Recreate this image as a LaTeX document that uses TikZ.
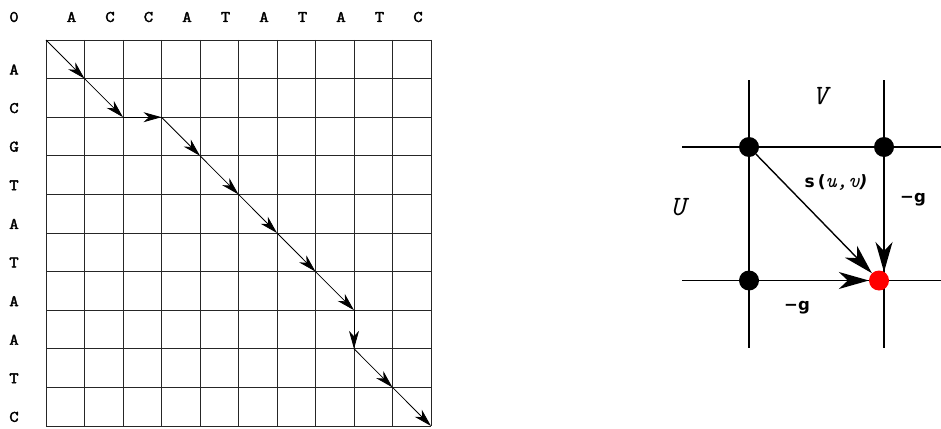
\documentclass[tikz,border=0pt]{standalone}
\usepackage{fontspec}
\newfontfamily\dvs{DejaVu Sans}
\newfontfamily\cb[FakeBold=2.5,FakeStretch=1.15]{Latin Modern Mono}
\newfontfamily\ci{Latin Modern Mono}
\usetikzlibrary{arrows.meta}
\begin{document}
\begin{tikzpicture}[x=1pt,y=-1pt,
  lab/.style={font=\cb\fontsize{16}{16}\selectfont, inner sep=0pt},
  gridline/.style={line width=0.9pt, draw=black!85},
  path/.style={line width=0.8pt, -{Stealth[length=18pt,width=10pt,inset=5.5pt]}},
  axis/.style={line width=1.4pt},
  dot/.style={circle, fill=black, minimum size=20pt, inner sep=0pt},
  reddot/.style={circle, fill=red, minimum size=20pt, inner sep=0pt},
  bigarrow/.style={line width=1.4pt, -{Stealth[length=30pt,width=17pt,inset=9pt]}},
  bigital/.style={font=\ci\itshape\fontsize{28}{28}\selectfont, inner sep=0pt},
  sublab/.style={font=\dvs\bfseries\fontsize{16.5}{16.5}\selectfont, inner sep=0pt}
]
\useasboundingbox (0,0) rectangle (941,428);
% grid
\foreach \i in {0,...,10} {
  \pgfmathsetmacro\xx{46+38.5*\i}
  \pgfmathsetmacro\yy{40+38.6*\i}
  \draw[gridline] (\xx,40) -- (\xx,426);
  \draw[gridline] (46,\yy) -- (431,\yy);
}
% labels
\node[lab] (zero) at (14,17) {0};
\foreach \l [count=\i from 0] in {A,C,C,A,T,A,T,A,T,C} {
  \node[lab] (top\i) at ({71.5+38.5*\i},17) {\l};
}
\foreach \l [count=\i from 0] in {A,C,G,T,A,T,A,A,T,C} {
  \node[lab] (row\i) at (14,{69.5+38.6*\i}) {\l};
}
% path coordinates
\coordinate (p0) at (46,40);
\coordinate (p1) at (84.5,78.6);
\coordinate (p2) at (123,117.2);
\coordinate (p3) at (161.5,117.2);
\coordinate (p4) at (200,155.8);
\coordinate (p5) at (238.5,194.4);
\coordinate (p6) at (277,233);
\coordinate (p7) at (315.5,271.6);
\coordinate (p8) at (354,310.2);
\coordinate (p9) at (354,348.8);
\coordinate (p10) at (392.5,387.4);
\coordinate (p11) at (431,426);
\foreach \a/\b in {p0/p1,p1/p2,p2/p3,p3/p4,p4/p5,p5/p6,p6/p7,p7/p8,p8/p9,p9/p10,p10/p11}
  \draw[path] (\a) -- (\b);
% right diagram
\draw[axis] (749,80) -- (749,348);
\draw[axis] (884,80) -- (884,348);
\draw[axis] (682,147) -- (941,147);
\draw[axis] (682,280.5) -- (941,280.5);
\node[dot] (a) at (749,147) {};
\node[dot] (b) at (884,147) {};
\node[dot] (c) at (749,280.5) {};
\node[reddot] (r) at (879,280.5) {};
\coordinate (rt) at (884,272);
\draw[bigarrow] (a) -- (r);
\draw[bigarrow] (b) -- (rt);
\draw[bigarrow] (c) -- (r);
\node[bigital] (V) at (820,96) {V};
\node[bigital] (U) at (678,207) {U};
\node[inner sep=0pt] (s) at (836,183) {\dvs\bfseries\fontsize{17}{17}\selectfont s\hspace{3pt}(\ci\itshape\fontsize{21}{21}\selectfont u,\hspace{1pt}v\dvs\bfseries\fontsize{17}{17}\selectfont )};
\node[sublab] (g1) at (913,200) {−g};
\node[sublab] (g2) at (797,308) {−g};
\end{tikzpicture}
\end{document}
